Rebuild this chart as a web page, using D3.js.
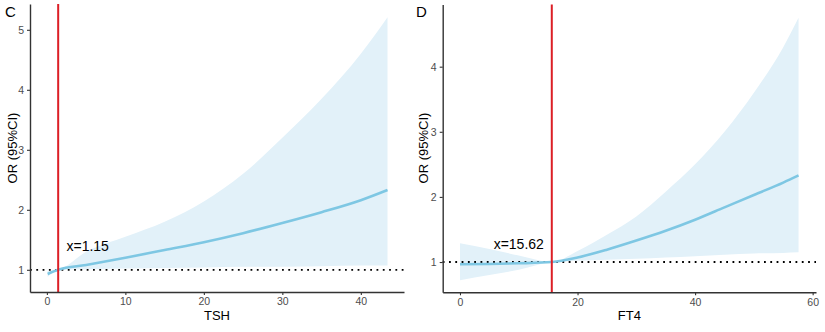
<!DOCTYPE html>
<html><head><meta charset="utf-8">
<script src="https://cdn.jsdelivr.net/npm/d3@7"></script>
<style>body{margin:0;background:#fff}svg{display:block}text{font-family:"Liberation Sans",Arial,sans-serif}</style>
</head><body><svg id="c" width="825" height="332"></svg>
<script>
// Panel C: TSH
const tshX     = [0.1, 1.44, 5, 10, 15, 20, 25, 30, 35, 40, 43.4];
const tshOR    = [0.93, 1.0, 1.08, 1.20, 1.33, 1.46, 1.61, 1.78, 1.96, 2.16, 2.33];
const tshLower = [0.88, 1.0, 1.01, 1.02, 1.03, 1.04, 1.05, 1.05, 1.06, 1.07, 1.07];
const tshUpper = [0.98, 1.0, 1.30, 1.55, 1.80, 2.14, 2.60, 3.20, 3.85, 4.60, 5.21];
const tshXTicks = [0, 10, 20, 30, 40];
const tshYTicks = [1, 2, 3, 4, 5];
// Panel D: FT4
const ft4X     = [0, 5, 10, 15.62, 20, 25, 30, 35, 40, 45, 50, 55, 57.6];
const ft4OR    = [0.965, 0.97, 0.98, 1.0, 1.07, 1.19, 1.33, 1.48, 1.65, 1.84, 2.03, 2.22, 2.33];
const ft4Lower = [0.72, 0.80, 0.88, 1.0, 1.02, 1.035, 1.05, 1.07, 1.09, 1.11, 1.13, 1.14, 1.15];
const ft4Upper = [1.29, 1.20, 1.10, 1.0, 1.17, 1.42, 1.70, 2.08, 2.50, 3.00, 3.60, 4.30, 4.75];
const ft4XTicks = [0, 20, 40, 60];
const ft4YTicks = [1, 2, 3, 4];

const panels = [
  {tag:"C", xTitle:"TSH", xs:tshX, or:tshOR, lo:tshLower, hi:tshUpper, xt:tshXTicks, yt:tshYTicks,
   cut:1.44, label:"x=1.15", labX:5.2, labY:1.37,
   xDom:[-2.15,45.5], xRange:[30,404], yDom:[0.63,5.43], yRange:[292,4], tagX:5, yTitleX:12},
  {tag:"D", xTitle:"FT4", xs:ft4X, or:ft4OR, lo:ft4Lower, hi:ft4Upper, xt:ft4XTicks, yt:ft4YTicks,
   cut:15.62, label:"x=15.62", labX:10.0, labY:1.26,
   xDom:[-2.94,60.57], xRange:[442.7,816], yDom:[0.535,4.955], yRange:[292.3,4.5], tagX:416, yTitleX:423}
];

const svg = d3.select("#c");
panels.forEach(p => {
  const x = d3.scaleLinear().domain(p.xDom).range(p.xRange);
  const y = d3.scaleLinear().domain(p.yDom).range(p.yRange);
  const g = svg.append("g");
  const pts = p.xs.map((v,i)=>({x:v, or:p.or[i], lo:p.lo[i], hi:p.hi[i]}));
  g.append("path").datum(pts)
    .attr("d", d3.area().x(d=>x(d.x)).y0(d=>y(d.lo)).y1(d=>y(d.hi)).curve(d3.curveMonotoneX))
    .attr("fill", "#e2f1f9");
  g.append("line").attr("x1", p.xRange[0]).attr("x2", p.xRange[1]).attr("y1", y(1)).attr("y2", y(1))
    .attr("stroke", "#000").attr("stroke-width", 1.8).attr("stroke-dasharray", "1.8 4.5");
  g.append("path").datum(pts)
    .attr("d", d3.line().x(d=>x(d.x)).y(d=>y(d.or)).curve(d3.curveMonotoneX))
    .attr("fill", "none").attr("stroke", "#7ec7e3").attr("stroke-width", 2.6);
  g.append("line").attr("x1", x(p.cut)).attr("x2", x(p.cut)).attr("y1", p.yRange[1]).attr("y2", p.yRange[0])
    .attr("stroke", "#dc1f26").attr("stroke-width", 2);
  g.append("text").attr("x", x(p.labX)).attr("y", y(p.labY)).attr("text-anchor", "middle")
    .attr("dominant-baseline", "middle").attr("font-size", 14).attr("fill", "#000").text(p.label);

  const xa = g.append("g").attr("transform", `translate(0,${p.yRange[0]})`)
    .call(d3.axisBottom(x).tickValues(p.xt).tickFormat(d3.format("d")).tickSize(3).tickPadding(3).tickSizeOuter(0));
  const ya = g.append("g").attr("transform", `translate(${p.xRange[0]},0)`)
    .call(d3.axisLeft(y).tickValues(p.yt).tickFormat(d3.format("d")).tickSize(3).tickPadding(3).tickSizeOuter(0));
  [xa, ya].forEach(a => {
    a.select(".domain").attr("stroke", "#333").attr("stroke-width", 1.4);
    a.selectAll(".tick line").attr("stroke", "#333").attr("stroke-width", 1.1);
    a.selectAll(".tick text").attr("fill", "#4d4d4d").attr("font-size", 10.5)
      .attr("font-family", "Liberation Sans, Arial, sans-serif");
  });
  g.append("text").attr("x", (p.xRange[0]+p.xRange[1])/2).attr("y", 320).attr("text-anchor", "middle")
    .attr("font-size", 13).attr("fill", "#000").text(p.xTitle);
  g.append("text").attr("transform", `translate(${p.yTitleX+5},148) rotate(-90)`).attr("text-anchor", "middle")
    .attr("font-size", 13).attr("fill", "#000").text("OR (95%CI)");
  g.append("text").attr("x", p.tagX).attr("y", 17).attr("font-size", 15).attr("fill", "#000").text(p.tag);
});
</script></body></html>
